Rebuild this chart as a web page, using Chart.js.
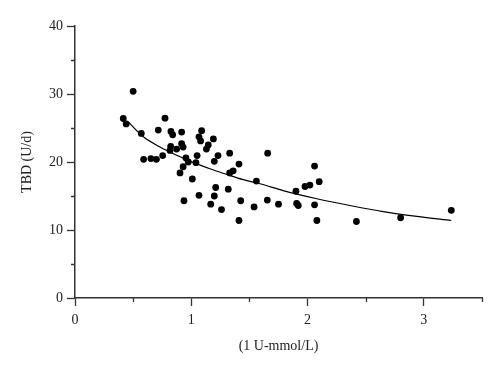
<!DOCTYPE html>
<html>
<head>
<meta charset="utf-8">
<script src="https://cdn.jsdelivr.net/npm/chart.js@4"></script>
<style>
html,body{margin:0;padding:0;background:#fff;}
#wrap{width:500px;height:372px;}
</style>
</head>
<body>
<div id="wrap"><canvas id="c" width="500" height="372"></canvas></div>
<script>
const xVals = [0.415,0.44,0.50,0.57,0.59,0.653,0.70,0.716,0.754,0.774,0.825,0.84,0.823,0.817,0.874,0.917,0.917,0.93,0.903,0.93,0.954,0.974,0.937,1.009,1.04,1.05,1.066,1.08,1.089,1.066,1.13,1.146,1.19,1.23,1.198,1.21,1.198,1.167,1.26,1.318,1.33,1.33,1.36,1.41,1.425,1.41,1.54,1.56,1.657,1.654,1.75,1.90,1.906,1.92,1.978,2.02,2.06,2.10,2.06,2.08,2.42,2.80,3.236];
const yVals = [26.4,25.6,30.4,24.2,20.4,20.5,20.4,24.7,20.95,26.45,24.5,24.0,22.3,21.7,21.9,24.4,22.7,22.2,18.4,19.3,20.6,20.0,14.3,17.5,19.9,20.95,23.7,23.1,24.6,15.1,21.9,22.5,23.4,20.95,20.1,16.25,15.0,13.8,13.0,16.0,21.3,18.4,18.7,19.7,14.3,11.4,13.4,17.2,21.3,14.4,13.8,15.7,13.9,13.6,16.4,16.6,19.4,17.1,13.7,11.4,11.25,11.8,12.9];
const fitX = [0.458,0.588,0.731,0.874,1.017,1.16,1.30,1.447,1.59,1.79,2.08,2.365,2.65,2.94,3.236];
const fitY = [25.9,23.7,22.2,21.0,19.95,19.0,18.2,17.4,16.8,15.8,14.6,13.6,12.7,12.0,11.4];
const xTickLabels = ['0','1','2','3'];
const yTickLabels = ['0','10','20','30','40'];
const xTitle = '(1 U-mmol/L)';
const yTitle = 'TBD (U/d)';

const axisColor = '#333';
const font = {family: "'Liberation Serif', 'DejaVu Serif', serif", size: 14};

const minorTicks = {
  id: 'minorTicks',
  afterDraw(chart) {
    const ctx = chart.ctx;
    const xs = chart.scales.x, ys = chart.scales.y;
    ctx.save();
    ctx.strokeStyle = axisColor;
    ctx.lineWidth = 1.3;
    ctx.beginPath();
    xs.ticks.forEach(t => {
      if (Math.abs(t.value - Math.round(t.value)) > 1e-6) {
        const px = Math.round(xs.getPixelForValue(t.value)) + 0.5;
        ctx.moveTo(px, ys.bottom);
        ctx.lineTo(px, ys.bottom + 4);
      }
    });
    ys.ticks.forEach(t => {
      if (Math.round(t.value) % 10 !== 0) {
        const py = Math.round(ys.getPixelForValue(t.value)) + 0.5;
        ctx.moveTo(xs.left, py);
        ctx.lineTo(xs.left - 4, py);
      }
    });
    ctx.stroke();
    ctx.restore();
  }
};

new Chart(document.getElementById('c'), {
  type: 'scatter',
  data: {
    datasets: [
      {
        label: 'data',
        data: xVals.map((x, i) => ({x: x, y: yVals[i]})),
        backgroundColor: '#000',
        borderColor: '#000',
        pointRadius: 3.4,
        pointHoverRadius: 3.4,
        borderWidth: 0
      },
      {
        label: 'fit',
        type: 'line',
        data: fitX.map((x, i) => ({x: x, y: fitY[i]})),
        borderColor: '#000',
        borderWidth: 1.2,
        pointRadius: 0,
        fill: false,
        cubicInterpolationMode: 'monotone'
      }
    ]
  },
  options: {
    responsive: false,
    animation: false,
    devicePixelRatio: 1,
    layout: {padding: {top: 26, right: 18, left: 0, bottom: 0}},
    plugins: {legend: {display: false}, tooltip: {enabled: false}},
    scales: {
      x: {
        type: 'linear',
        min: 0, max: 3.5,
        afterFit(s) { s.height = 74; },
        border: {color: axisColor, width: 1.5},
        grid: {
          drawOnChartArea: false,
          tickLength: 8,
          tickWidth: 1.3,
          tickColor: ctx => (Math.abs(ctx.tick.value - Math.round(ctx.tick.value)) < 1e-6 ? axisColor : 'rgba(0,0,0,0)')
        },
        ticks: {
          stepSize: 0.5,
          autoSkip: false,
          maxRotation: 0,
          padding: 6,
          color: '#222',
          font: font,
          callback: v => (Math.abs(v - Math.round(v)) < 1e-6 ? xTickLabels[Math.round(v)] : '')
        },
        title: {display: true, text: xTitle, color: '#222', font: font, padding: {top: 0, bottom: 17}}
      },
      y: {
        type: 'linear',
        min: 0, max: 40,
        afterFit(s) { s.width = 75; },
        border: {color: axisColor, width: 1.5},
        grid: {
          drawOnChartArea: false,
          tickLength: 8,
          tickWidth: 1.3,
          tickColor: ctx => (Math.round(ctx.tick.value) % 10 === 0 ? axisColor : 'rgba(0,0,0,0)')
        },
        ticks: {
          stepSize: 5,
          autoSkip: false,
          padding: 4,
          color: '#222',
          font: font,
          callback: v => (Math.round(v) % 10 === 0 ? yTickLabels[Math.round(v) / 10] : '')
        },
        title: {display: true, text: yTitle, color: '#222', font: font, padding: {top: 19, bottom: 0}}
      }
    }
  },
  plugins: [minorTicks]
});
</script>
</body>
</html>
